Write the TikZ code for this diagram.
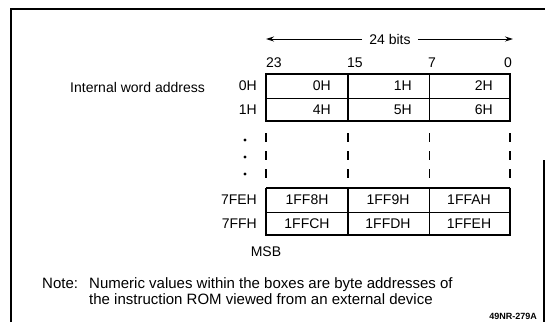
\documentclass[tikz,border=0pt]{standalone}
\usepackage{fontspec}
\setmainfont{Liberation Sans}
\usetikzlibrary{arrows.meta,positioning}

\tikzset{
  lbl/.style={font=\fontsize{14}{16}\selectfont, inner sep=0pt},
  notefont/.style={font=\fontsize{15}{16}\selectfont, inner sep=0pt},
  tag/.style={font=\fontsize{9}{10}\selectfont\bfseries, inner sep=0pt},
  span/.style={-{Stealth[length=8pt,width=5pt]}, line width=0.9pt},
}

\begin{document}
\begin{tikzpicture}[x=1pt,y=-1pt]
				\useasboundingbox (0,0) rectangle (545,322);
				
				% Frame
				\draw[line width=2pt] (11,322) -- (11,8.5) -- (545,8.5);
				\draw[line width=1.5pt] (544,160) -- (544,322);
				
				% Word width
				\node[lbl, inner xsep=7pt] (bits) at (390,39) {24 bits};
				\coordinate (bitsl) at (266,39);
				\coordinate (bitsr) at (513,39);
				\draw[span] (bits) -- (bitsl);
				\draw[span] (bits) -- (bitsr);
				
				% Bit numbers
				\node[lbl, anchor=west] (b23) at (266,63) {23};
				\node[lbl, anchor=west] (b15) at (347,63) {15};
				\node[lbl] (b7) at (432,63) {7};
				\node[lbl, anchor=east] (b0) at (512,63) {0};
				
				% Upper rows
				\draw[line width=2.2pt] (266,74) -- (510,74);
				\draw[line width=1pt] (266,98) -- (510,98);
				\draw[line width=1.3pt] (266,121) -- (510,121);
				
				% Lower rows
				\draw[line width=1.1pt] (266,188) -- (510,188);
				\draw[line width=1pt] (266,212) -- (510,212);
				\draw[line width=2pt] (266,235) -- (510,235);
				
				% Columns
				\foreach \x/\w in {266/2.6,348/1.6,429/0.8,510/2.3} {
					\draw[line width=\w pt] (\x,73) -- (\x,122);
					\draw[line width=\w pt, dash pattern=on 9pt off 9pt] (\x,133) -- (\x,179);
					\draw[line width=\w pt] (\x,187.5) -- (\x,236);
				}
				
				% Row addresses
				\node[lbl, anchor=west] (iwa) at (70,87) {Internal word address};
				\foreach \y/\t/\n in {86/0H/r0,110/1H/r1,200/7FEH/r2,224/7FFH/r3}
					\node[lbl, anchor=east] (\n) at (257,\y) {\t};
				
				% Dots
				\foreach \y in {140,157,174} \fill (245,\y) circle (1.7);
				
				% Byte addresses
				\foreach \x/\t/\n in {331/0H/a0,412/1H/a1,493/2H/a2}
					\node[lbl, anchor=east] (\n) at (\x,86) {\t};
				\foreach \x/\t/\n in {331/4H/a4,412/5H/a5,493/6H/a6}
					\node[lbl, anchor=east] (\n) at (\x,110) {\t};
				\foreach \x/\t/\n in {307/1FF8H/c8,388/1FF9H/c9,469/1FFAH/ca}
					\node[lbl] (\n) at (\x,200) {\t};
				\foreach \x/\t/\n in {307/1FFCH/cc,388/1FFDH/cd,469/1FFEH/ce}
					\node[lbl] (\n) at (\x,224) {\t};
				
				% Labels
				\node[lbl] (msb) at (266,252) {MSB};
				\node[notefont, anchor=west] (note) at (42,283) {Note:};
				\node[notefont, anchor=west, align=left] (notetext) at (89,291) {Numeric values within the boxes are byte addresses of\\the instruction ROM viewed from an external device};
				\node[tag, anchor=east] (fig) at (537,316) {49NR-279A};
			\end{tikzpicture}
\end{document}
